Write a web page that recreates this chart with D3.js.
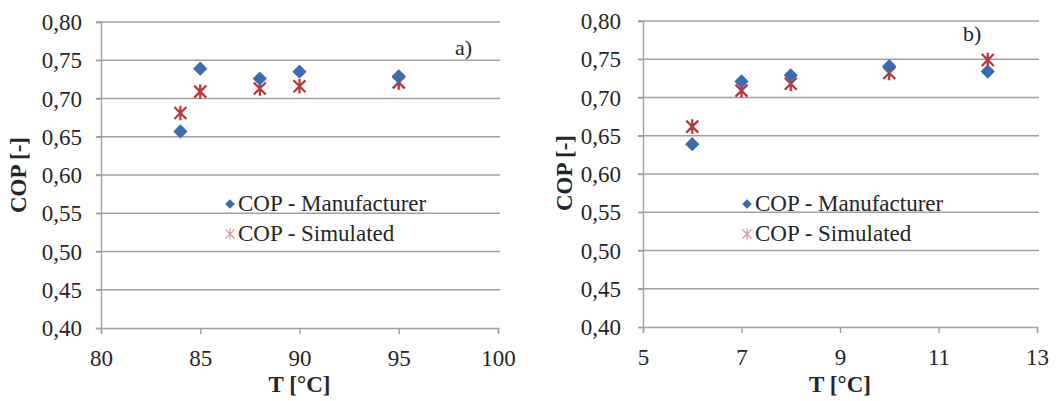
<!DOCTYPE html>
<html>
<head>
<meta charset="utf-8">
<script src="https://cdn.jsdelivr.net/npm/d3@7"></script>
<style>
  html, body { margin: 0; padding: 0; background: #fff; }
  svg { display: block; }
  text { font-family: "Liberation Serif", "Times New Roman", serif; fill: #262626; }
</style>
</head>
<body>
<svg id="chart" width="1058" height="401"></svg>
<script>
// Data: COP versus temperature, manufacturer values and simulated values
const tempA = [84, 85, 88, 90, 95];
const copManufA = [0.657, 0.739, 0.726, 0.735, 0.729];
const copSimA = [0.681, 0.709, 0.713, 0.716, 0.721];

const tempB = [6, 7, 8, 10, 12];
const copManufB = [0.639, 0.721, 0.729, 0.741, 0.734];
const copSimB = [0.662, 0.709, 0.718, 0.732, 0.749];

const xTicksA = [80, 85, 90, 95, 100];
const xTicksB = [5, 7, 9, 11, 13];
const yTicks = [0.40, 0.45, 0.50, 0.55, 0.60, 0.65, 0.70, 0.75, 0.80];
const panelLabels = ["a)", "b)"];
const seriesNames = ["COP - Manufacturer", "COP - Simulated"];
const xTitle = "T [°C]";
const yTitle = "COP [-]";

const blue = "#3a6cb4";
const red = "#b8383c";
const gridColor = "#a0a0a0";
const fontSize = 23;
const fontFamily = '"Liberation Serif", "Times New Roman", serif';

const svg = d3.select("#chart");
const fmt = v => d3.format(".2f")(v).replace(".", ",");

const diamond = d3.symbol().type(d3.symbolDiamond2);
function starPath(r) {
  return `M${-r},${-r}L${r},${r}M${-r},${r}L${r},${-r}M0,${-r * 1.2}L0,${r * 1.2}`;
}

function drawPanel(opt) {
  const x = d3.scaleLinear().domain(d3.extent(opt.xTicks)).range([opt.left, opt.right]);
  const y = d3.scaleLinear().domain([0.40, 0.80]).range([opt.bottom, opt.top]);
  const g = svg.append("g");

  // horizontal gridlines with short outer ticks
  g.append("g").selectAll("line").data(yTicks.slice(1)).join("line")
    .attr("x1", opt.left - 5).attr("x2", opt.right + 2)
    .attr("y1", d => y(d)).attr("y2", d => y(d))
    .attr("stroke", gridColor).attr("stroke-width", 1.4);

  // axes
  const yAxis = d3.axisLeft(y).tickValues(yTicks).tickSize(5).tickFormat(fmt);
  const yg = g.append("g").attr("transform", `translate(${opt.left},0)`).call(yAxis);
  yg.select(".domain").attr("stroke", gridColor).attr("stroke-width", 1.4);
  yg.selectAll(".tick line").attr("stroke", gridColor).attr("stroke-width", 1.4);
  yg.selectAll(".tick text")
    .attr("x", opt.yLabelRight - opt.left).attr("dy", "0.33em")
    .style("font-size", fontSize + "px").style("font-family", fontFamily).attr("fill", "#262626");

  const xAxis = d3.axisBottom(x).tickValues(opt.xTicks).tickSize(6).tickFormat(d3.format("d"));
  const xg = g.append("g").attr("transform", `translate(0,${opt.bottom})`).call(xAxis);
  xg.select(".domain").attr("stroke", gridColor).attr("stroke-width", 1.4);
  xg.selectAll(".tick line").attr("stroke", gridColor).attr("stroke-width", 1.4);
  xg.selectAll(".tick text")
    .attr("y", 38).attr("dy", 0)
    .style("font-size", fontSize + "px").style("font-family", fontFamily).attr("fill", "#262626");

  // axis titles
  g.append("text")
    .attr("x", (opt.left + opt.right) / 2).attr("y", 392)
    .attr("text-anchor", "middle").attr("font-weight", "bold")
    .style("font-size", fontSize + "px").text(xTitle);
  g.append("text")
    .attr("transform", `translate(${opt.yTitleX},${opt.yTitleY}) rotate(-90)`)
    .attr("text-anchor", "middle").attr("font-weight", "bold")
    .style("font-size", fontSize + "px").text(yTitle);

  // panel letter
  g.append("text")
    .attr("x", opt.labelX).attr("y", opt.labelY)
    .style("font-size", "22px").text(opt.label);

  // simulated series (star markers)
  g.append("g").selectAll("path").data(opt.temps).join("path")
    .attr("transform", (d, i) => `translate(${x(d)},${y(opt.sim[i])})`)
    .attr("d", starPath(6))
    .attr("fill", "none").attr("stroke", red).attr("stroke-width", 2.3);

  // manufacturer series (diamond markers)
  g.append("g").selectAll("path").data(opt.temps).join("path")
    .attr("transform", (d, i) => `translate(${x(d)},${y(opt.manuf[i])})`)
    .attr("d", diamond.size(130)())
    .attr("fill", blue);

  // legend
  const lg = g.append("g").attr("transform", `translate(${opt.legendX},0)`);
  lg.append("path").attr("transform", "translate(0,204)")
    .attr("d", diamond.size(60)()).attr("fill", blue);
  lg.append("path").attr("transform", "translate(0,234)")
    .attr("d", starPath(4.5)).attr("fill", "none")
    .attr("stroke", "#d89aa4").attr("stroke-width", 1.3);
  lg.append("text").attr("x", 8).attr("y", 211)
    .style("font-size", fontSize + "px").text(seriesNames[0]);
  lg.append("text").attr("x", 8).attr("y", 241)
    .style("font-size", fontSize + "px").text(seriesNames[1]);
}

drawPanel({
  xTicks: xTicksA, temps: tempA, manuf: copManufA, sim: copSimA,
  left: 101, right: 498, top: 22, bottom: 328,
  yLabelRight: 82, yTitleX: 26, yTitleY: 175,
  label: panelLabels[0], labelX: 455, labelY: 55,
  legendX: 230
});

drawPanel({
  xTicks: xTicksB, temps: tempB, manuf: copManufB, sim: copSimB,
  left: 643, right: 1037, top: 21, bottom: 327,
  yLabelRight: 621, yTitleX: 572, yTitleY: 173,
  label: panelLabels[1], labelX: 963, labelY: 41,
  legendX: 747
});
</script>
</body>
</html>
